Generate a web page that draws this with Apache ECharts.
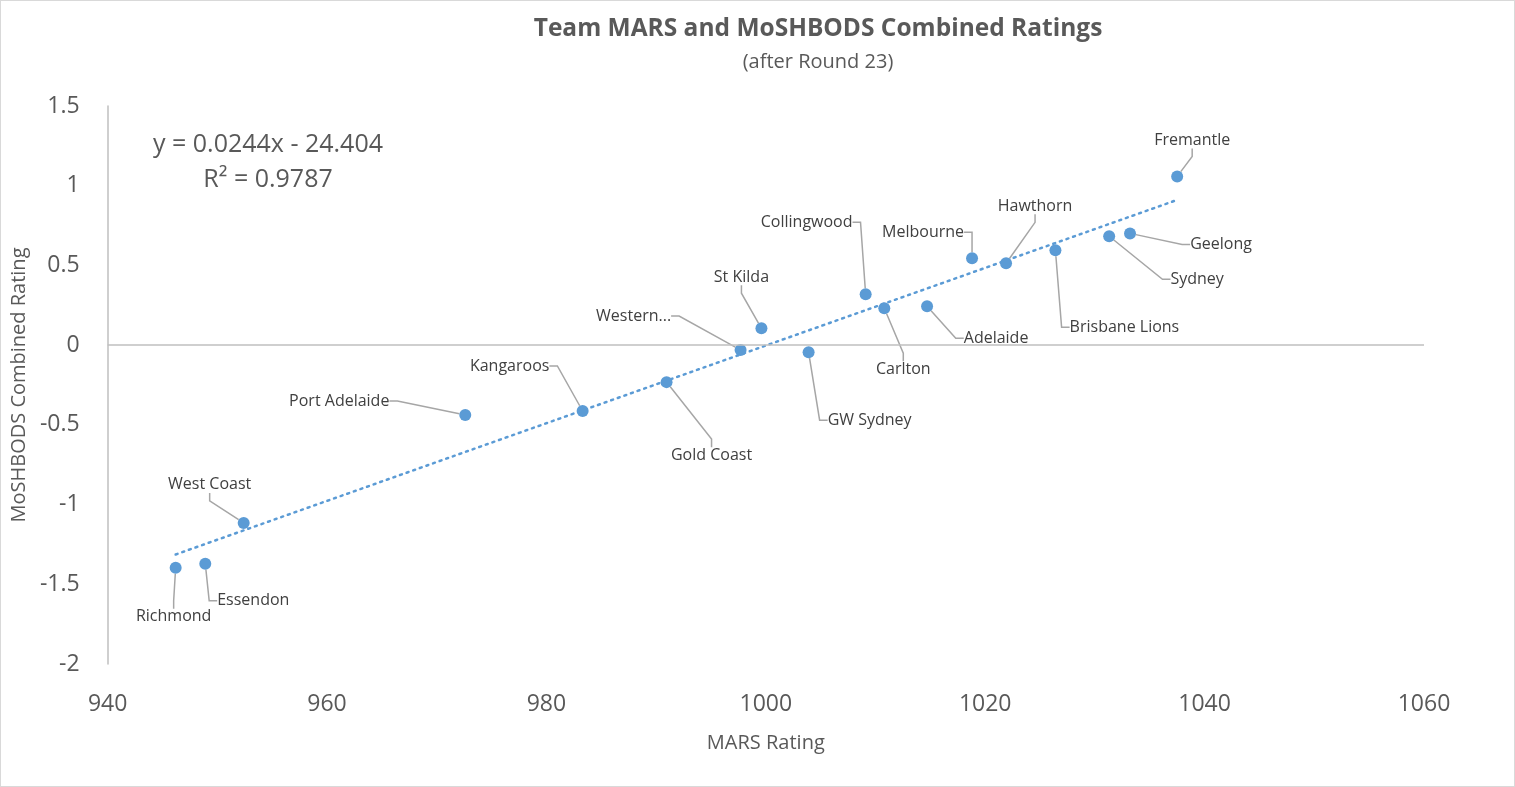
<!DOCTYPE html>
<html>
<head>
<meta charset="utf-8">
<title>Team MARS and MoSHBODS Combined Ratings</title>
<script src="https://cdn.jsdelivr.net/npm/echarts@6/dist/echarts.min.js"></script>
<style>
  html, body { margin: 0; padding: 0; background: #fff; }
  #main { width: 1515px; height: 787px; box-sizing: border-box; border: 1px solid #d9d9d9; }
</style>
</head>
<body>
<div id="main"></div>
<script>
// team names, MARS rating (x) and MoSHBODS combined rating (y)
const teams = ['Fremantle', 'Geelong', 'Sydney', 'Brisbane Lions', 'Hawthorn', 'Melbourne',
  'Adelaide', 'Carlton', 'Collingwood', 'GW Sydney', 'St Kilda', 'Western...', 'Gold Coast',
  'Kangaroos', 'Port Adelaide', 'West Coast', 'Essendon', 'Richmond'];
const marsRating = [1037.5, 1033.2, 1031.3, 1026.4, 1021.9, 1018.8, 1014.7, 1010.8, 1009.1,
  1003.9, 999.6, 997.7, 990.95, 983.3, 972.6, 952.4, 948.9, 946.2];
const moshRating = [1.058, 0.701, 0.683, 0.595, 0.513, 0.545, 0.244, 0.232, 0.319,
  -0.044, 0.106, -0.031, -0.232, -0.413, -0.438, -1.115, -1.371, -1.396];

// linear trendline end points
const trendX = [946.2, 1037.5];
const trendY = [-1.313, 0.911];

// where each data label sits relative to its point (px)
const labelOffsets = [[15, -36], [91, 11], [88, 43], [69, 77], [29, -57], [-49, -26],
  [69, 32], [19, 61], [-59, -72], [61, 68], [-20, -51], [-107, -34], [45, 73],
  [-73, -45], [-126, -14], [-34, -38], [48, 37], [-2, 49]];

const xTicks = { min: 940, max: 1060, interval: 20 };
const yTicks = { min: -2, max: 1.5, interval: 0.5 };

const font = '"Open Sans", "Noto Sans", sans-serif';
const myChart = echarts.init(document.getElementById('main'), null, { renderer: 'canvas' });

const option = {
  backgroundColor: '#fff',
  textStyle: { fontFamily: font },
  title: {
    text: 'Team MARS and MoSHBODS Combined Ratings',
    subtext: '(after Round 23)',
    left: 812,
    textAlign: 'center',
    top: 11,
    itemGap: 10,
    textStyle: { fontSize: 24.5, fontWeight: 'bold', color: '#595959', fontFamily: font },
    subtextStyle: { fontSize: 20, color: '#595959', fontFamily: font }
  },
  grid: { left: 99, right: 90, top: 105, bottom: 122, containLabel: false },
  graphic: [
    {
      type: 'text', x: 267, y: 131,
      style: { text: 'y = 0.0244x - 24.404', fontSize: 25, fill: '#595959', fontFamily: font, align: 'center' }
    },
    {
      type: 'text', x: 267, y: 166,
      style: { text: 'R² = 0.9787', fontSize: 25, fill: '#595959', fontFamily: font, align: 'center' }
    }
  ],
  xAxis: {
    type: 'value',
    min: xTicks.min, max: xTicks.max, interval: xTicks.interval,
    name: 'MARS Rating',
    nameLocation: 'middle',
    nameGap: 69,
    nameTextStyle: { fontSize: 20, color: '#595959' },
    axisLine: { show: false },
    axisTick: { show: false },
    splitLine: { show: false },
    axisLabel: { fontSize: 23, color: '#595959', margin: 29, formatter: (v) => String(v) }
  },
  yAxis: {
    type: 'value',
    min: yTicks.min, max: yTicks.max, interval: yTicks.interval,
    name: 'MoSHBODS Combined Rating',
    nameLocation: 'middle',
    nameGap: 70,
    nameTextStyle: { fontSize: 20, color: '#595959' },
    axisLine: { show: true, onZero: false, lineStyle: { color: '#bfbfbf', width: 1.5 } },
    axisTick: { show: false },
    splitLine: { show: false },
    axisLabel: { fontSize: 23, color: '#595959', margin: 28 }
  },
  series: [
    {
      name: 'trend',
      type: 'line',
      data: trendX.map((x, i) => [x, trendY[i]]),
      symbol: 'none',
      lineStyle: { color: '#5b9bd5', width: 2.5, type: [2, 5], cap: 'round' },
      silent: true,
      z: 3,
      markLine: {
        silent: true,
        symbol: 'none',
        label: { show: false },
        lineStyle: { color: '#bfbfbf', width: 1.5, type: 'solid' },
        data: [{ yAxis: 0 }]
      }
    },
    {
      name: 'teams',
      type: 'scatter',
      symbolSize: 12,
      itemStyle: { color: '#5b9bd5', opacity: 1 },
      data: teams.map((t, i) => ({ name: t, value: [marsRating[i], moshRating[i]] })),
      z: 4,
      label: {
        show: true,
        position: 'inside',
        formatter: '{b}',
        fontSize: 16,
        color: '#404040',
        fontFamily: font
      },
      labelLayout: (params) => ({
        dx: labelOffsets[params.dataIndex][0],
        dy: labelOffsets[params.dataIndex][1]
      }),
      labelLine: {
        show: true,
        length2: 8,
        lineStyle: { color: '#a6a6a6', width: 1.5 }
      }
    }
  ]
};

myChart.setOption(option);
</script>
</body>
</html>
